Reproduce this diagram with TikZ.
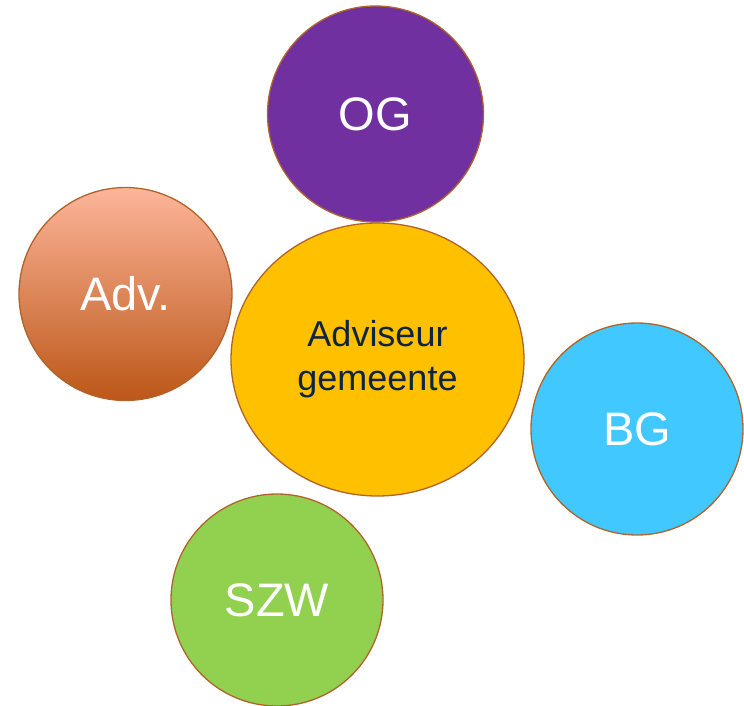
\documentclass[tikz,border=0pt]{standalone}
\usepackage{fontspec}
\setmainfont{Liberation Sans}
\usetikzlibrary{shapes.geometric}
\definecolor{edge}{HTML}{B0642A}
\definecolor{ogc}{HTML}{7030A0}
\definecolor{bgc}{HTML}{40C8FF}
\definecolor{szwc}{HTML}{92D050}
\definecolor{midc}{HTML}{FFC000}
\definecolor{advtop}{HTML}{FDB59A}
\definecolor{advbot}{HTML}{BC5718}
\definecolor{navy}{HTML}{0F2440}
\tikzset{
  bubble/.style={circle, draw=edge, line width=1.3pt, minimum size=#1, inner sep=0pt, text=white, font=\fontsize{47}{56}\selectfont},
}
\begin{document}
\begin{tikzpicture}[x=1pt,y=-1pt]
\useasboundingbox (0,0) rectangle (744,706);
\node[bubble=216pt, fill=ogc] (og) at (375.5,114) {OG};
\node[bubble=213pt, top color=advtop, bottom color=advbot] (adv) at (125.5,294) {Adv.};
\node[ellipse, draw=edge, line width=1.3pt, fill=midc, minimum width=293pt, minimum height=273pt, inner sep=0pt, text=navy, align=center, font=\fontsize{36}{44}\selectfont] (mid) at (377.5,359.5) {\raisebox{-3pt}{Adviseur}\\\raisebox{-3pt}{gemeente}};
\node[bubble=212pt, fill=bgc] (bg) at (637,429) {BG};
\node[bubble=212pt, fill=szwc] (szw) at (277,600) {SZW};
\end{tikzpicture}
\end{document}
